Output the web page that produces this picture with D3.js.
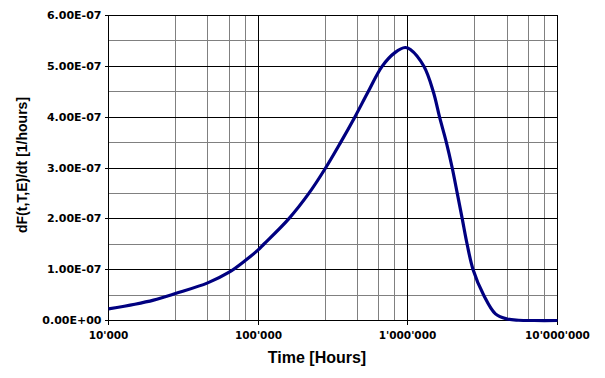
<!DOCTYPE html>
<html><head><meta charset="utf-8">
<script src="https://cdn.jsdelivr.net/npm/d3@7/dist/d3.min.js"></script>
<style>body{margin:0;background:#fff}svg{display:block}</style>
</head><body><svg id="c" width="605" height="378"></svg>
<script>
// ---- data ----
const hours = [1e4, 1.5e4, 2e4, 2.8e4, 4.6e4, 6.4e4, 8.2e4, 1e5, 1.09e5, 1.6e5, 2.18e5, 2.82e5, 3.55e5, 4.42e5, 5.43e5, 6.73e5, 8.2e5, 9.6e5, 1.04e6, 1.28e6, 1.48e6, 1.63e6, 1.81e6, 1.98e6, 2.14e6, 2.31e6, 2.49e6, 2.73e6, 3.21e6, 3.85e6, 4.6e6, 5.5e6, 7e6, 1e7];
const density = [2.3e-8, 3.2e-8, 4.0e-8, 5.3e-8, 7.4e-8, 9.5e-8, 1.18e-7, 1.39e-7, 1.5e-7, 2.0e-7, 2.5e-7, 3.0e-7, 3.5e-7, 4.0e-7, 4.5e-7, 5.0e-7, 5.27e-7, 5.37e-7, 5.33e-7, 5.0e-7, 4.5e-7, 4.0e-7, 3.5e-7, 3.0e-7, 2.5e-7, 2.0e-7, 1.5e-7, 1.0e-7, 5.0e-8, 1.3e-8, 3e-9, 5e-10, 0, 0];
const xTicks = [1e4, 1e5, 1e6, 1e7];
const xTickLabels = ["10'000", "100'000", "1'000'000", "10'000'000"];
const xMinorFactors = [2.8, 4.6, 6.4, 8.2];
const yTicks = [0, 1e-7, 2e-7, 3e-7, 4e-7, 5e-7, 6e-7];
const yTickLabels = ["0.00E+00", "1.00E-07", "2.00E-07", "3.00E-07", "4.00E-07", "5.00E-07", "6.00E-07"];
const yMinor = [0.5e-7, 1.5e-7, 2.5e-7, 3.5e-7, 4.5e-7, 5.5e-7];
const xTitle = "Time [Hours]";
const yTitle = "dF(t,T,E)/dt [1/hours]";

// ---- layout ----
const svg = d3.select("#c");
const x = d3.scaleLog().domain([1e4, 1e7]).range([108.5, 557.5]);
const y = d3.scaleLinear().domain([0, 6e-7]).range([320.5, 15.5]);
const cx = v => Math.round(x(v) - 0.5) + 0.5;
const cy = v => Math.round(y(v) - 0.5) + 0.5;
const [x0, x1] = x.range();
const [y0, y1] = y.range();

const xMinor = [];
xTicks.slice(0, -1).forEach(d => xMinorFactors.forEach(f => xMinor.push(d * f)));

const grid = svg.append("g").attr("shape-rendering", "crispEdges");
grid.selectAll(".vm").data(xMinor).join("line")
  .attr("x1", d => cx(d)).attr("x2", d => cx(d)).attr("y1", y0).attr("y2", y1)
  .attr("stroke", "#808080").attr("stroke-width", 1);
grid.selectAll(".hm").data(yMinor).join("line")
  .attr("y1", d => cy(d)).attr("y2", d => cy(d)).attr("x1", x0).attr("x2", x1)
  .attr("stroke", "#808080").attr("stroke-width", 1);
grid.selectAll(".vM").data(xTicks).join("line")
  .attr("x1", d => cx(d)).attr("x2", d => cx(d)).attr("y1", y0).attr("y2", y1)
  .attr("stroke", "#000").attr("stroke-width", 1);
grid.selectAll(".hM").data(yTicks).join("line")
  .attr("y1", d => cy(d)).attr("y2", d => cy(d)).attr("x1", x0).attr("x2", x1)
  .attr("stroke", "#000").attr("stroke-width", 1);

// tick marks
grid.selectAll(".yt").data(yTicks).join("line")
  .attr("y1", d => cy(d)).attr("y2", d => cy(d)).attr("x1", x0 - 4).attr("x2", x0)
  .attr("stroke", "#000");
grid.selectAll(".xt").data(xTicks).join("line")
  .attr("x1", d => cx(d)).attr("x2", d => cx(d)).attr("y1", y0).attr("y2", y0 + 4)
  .attr("stroke", "#000");

// tick labels
const tickFont = "'DejaVu Sans', sans-serif";
svg.selectAll(".yl").data(yTicks).join("text")
  .attr("x", x0 - 7).attr("y", d => cy(d)).attr("dy", "0.36em")
  .attr("text-anchor", "end").attr("font-family", tickFont).attr("font-weight", "bold")
  .attr("font-size", 11).attr("fill", "#000")
  .text((d, i) => yTickLabels[i]);
svg.selectAll(".xl").data(xTicks).join("text")
  .attr("x", d => cx(d)).attr("y", 338.5)
  .attr("text-anchor", "middle").attr("font-family", tickFont).attr("font-weight", "bold")
  .attr("font-size", 10.5).attr("fill", "#000")
  .text((d, i) => xTickLabels[i]);

// titles
svg.append("text").attr("x", 317).attr("y", 363)
  .attr("text-anchor", "middle").attr("font-family", "'Liberation Sans', Arial, sans-serif")
  .attr("font-weight", "bold").attr("font-size", 16).text(xTitle);
svg.append("text").attr("transform", "translate(27,165) rotate(-90)")
  .attr("text-anchor", "middle").attr("font-family", "'Liberation Sans', Arial, sans-serif")
  .attr("font-weight", "bold").attr("font-size", 14).text(yTitle);

// curve
const pts = hours.map((h, i) => [h, density[i]]);
const line = d3.line().x(d => x(d[0])).y(d => y(d[1])).curve(d3.curveCatmullRom.alpha(0.5));
svg.append("path").datum(pts).attr("d", line)
  .attr("fill", "none").attr("stroke", "#000080").attr("stroke-width", 3.2)
  .attr("stroke-linejoin", "round");
</script></body></html>
